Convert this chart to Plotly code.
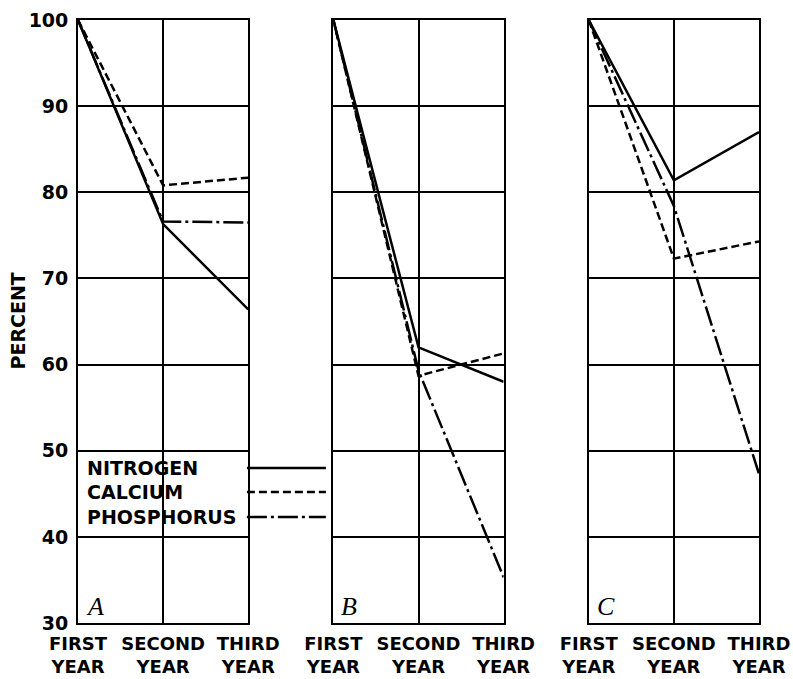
import plotly.graph_objects as go
from plotly.subplots import make_subplots

years = ["FIRST<br>YEAR", "SECOND<br>YEAR", "THIRD<br>YEAR"]
panels = ["A", "B", "C"]
series = ["NITROGEN", "CALCIUM", "PHOSPHORUS"]

nitrogen = {"A": [100, 76.3, 66.4], "B": [100, 62.0, 58.0], "C": [100, 81.4, 87.0]}
calcium = {"A": [100, 80.8, 81.7], "B": [100, 58.7, 61.3], "C": [100, 72.3, 74.3]}
phosphorus = {"A": [100, 76.6, 76.5], "B": [100, 59.3, 35.3], "C": [100, 78.4, 47.3]}

y_ticks = [30, 40, 50, 60, 70, 80, 90, 100]
legend_y = [48.0, 45.2, 42.3]

data = {"NITROGEN": nitrogen, "CALCIUM": calcium, "PHOSPHORUS": phosphorus}
dashes = {"NITROGEN": "solid", "CALCIUM": "8px,4px", "PHOSPHORUS": "20px,4px,3px,4px"}

FONT = "DejaVu Sans"

fig = make_subplots(rows=1, cols=3, shared_yaxes=True)
xpos = [0, 1, 2]
for ci, p in enumerate(panels, start=1):
    for s in series:
        fig.add_trace(go.Scatter(
            x=xpos, y=data[s][p], mode="lines",
            line=dict(color="black", width=2.5, dash=dashes[s]),
            showlegend=False, hoverinfo="skip"), row=1, col=ci)

domains = [[0, 2/8], [3/8, 5/8], [6/8, 1]]
for i in range(3):
    ax = "xaxis" if i == 0 else f"xaxis{i+1}"
    fig.layout[ax].update(
        domain=domains[i], range=[0, 2], tickvals=xpos, ticktext=years,
        showgrid=True, gridcolor="black", gridwidth=1.5, automargin=False,
        showline=True, mirror=True, linecolor="black", linewidth=1.8,
        zeroline=False, ticks="", ticklabelstandoff=3,
        tickfont=dict(family=FONT, size=18, color="black", weight="bold"))
    yax = "yaxis" if i == 0 else f"yaxis{i+1}"
    fig.layout[yax].update(
        range=[30, 100], tickvals=y_ticks, automargin=False,
        showgrid=True, gridcolor="black", gridwidth=1.5,
        showline=True, mirror=True, linecolor="black", linewidth=1.8,
        zeroline=False, ticks="", ticklabelstandoff=4,
        tickfont=dict(family=FONT, size=19, color="black", weight="bold"))
    xr = "x" if i == 0 else f"x{i+1}"
    fig.add_annotation(text=panels[i], xref=f"{xr} domain", yref="y domain",
                       x=0.035, y=0.0, xanchor="left", yanchor="bottom",
                       showarrow=False,
                       font=dict(family="Liberation Serif", size=26, color="black",
                                 style="italic"))

fig.update_yaxes(showticklabels=False, row=1, col=2)
fig.update_yaxes(showticklabels=False, row=1, col=3)

# legend
for s, ly in zip(series, legend_y):
    fig.add_annotation(text=s, xref="paper", yref="y", x=0.01, y=ly,
                       xanchor="left", yanchor="middle", showarrow=False,
                       font=dict(family=FONT, size=19, color="black", weight="bold"))
    fig.add_shape(type="line", xref="paper", yref="y", x0=0.248, x1=0.364,
                  y0=ly, y1=ly, line=dict(color="black", width=2.5, dash=dashes[s]))

fig.add_annotation(text="PERCENT", xref="paper", yref="paper", x=-78/681, y=0.5,
                   xanchor="left", yanchor="middle", showarrow=False, textangle=-90,
                   xshift=4,
                   font=dict(family=FONT, size=19, color="black", weight="bold"))

fig.update_layout(width=793, height=679, margin=dict(l=78, r=34, t=20, b=56),
                  paper_bgcolor="white", plot_bgcolor="white")

fig.write_html("out.html",
               config={"displayModeBar": False},
               post_script="document.body.style.margin='0';"
                           "document.body.style.overflow='hidden';")
